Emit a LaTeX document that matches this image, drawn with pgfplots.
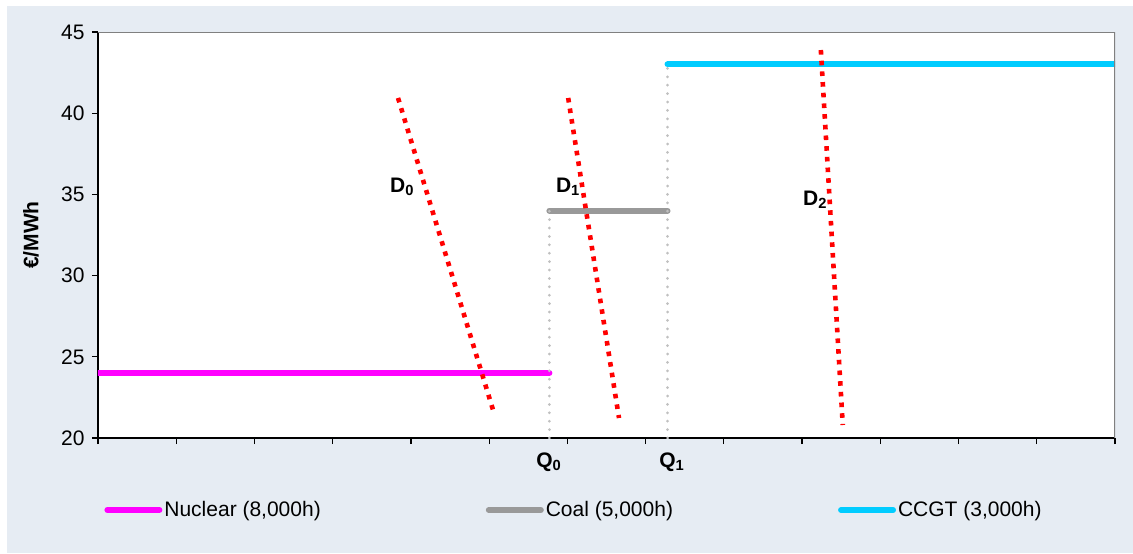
\documentclass[border=0pt]{standalone}
\usepackage{pgfplots}
\pgfplotsset{compat=1.18}
\usepackage{fontspec}
\setmainfont{Liberation Sans}
\definecolor{bgc}{HTML}{E6ECF3}
\definecolor{nuc}{HTML}{FF00FF}
\definecolor{coal}{HTML}{999999}
\definecolor{ccgt}{HTML}{00CCFF}
\definecolor{dotg}{HTML}{C0C0C0}
\definecolor{frameg}{HTML}{808080}
\begin{document}
\fontsize{10.5}{12.6}\selectfont
\begin{tikzpicture}
\fill[white] (-49pt,-57.5pt) rectangle (517.5pt,219pt);
\fill[bgc] (-45.5pt,-57.5pt) rectangle (517.5pt,216pt);
\begin{axis}[
  at={(0,0)}, anchor=south west,
  scale only axis, width=508.5pt, height=203pt,
  xmin=0, xmax=13, ymin=20, ymax=45,
  xtick={0,1,...,13}, xticklabels={},
  ytick={20,25,30,35,40,45},
  /pgf/number format/assume math mode=true,
  tick align=outside, major tick length=3pt,
  axis x line*=bottom, axis y line*=left,
  axis line style={black, line width=0.8pt},
  tick style={black, line width=0.6pt},
  axis background/.style={fill=white},
  ylabel={\textbf{€/MWh}}, ylabel shift=4pt,
  legend columns=3,
  legend cell align=left,
  legend style={draw=none, fill=none, at={(rel axis cs:0,0)}, anchor=west,
    xshift=3pt, yshift=-36pt, inner sep=0pt,
    nodes={inner sep=1pt},
    /tikz/every even column/.append style={column sep=81.5pt}},
  legend image code/.code={\draw[#1, line cap=round] (0pt,0pt) -- (26pt,0pt);},
]
\addplot[nuc, line width=3pt, line cap=round] coordinates {(-0.1,24) (5.77,24)};
\addlegendentry{Nuclear (8,000h)}
\addplot[coal, line width=3pt, line cap=round] coordinates {(5.77,34) (7.28,34)};
\addlegendentry{Coal (5,000h)}
\addplot[ccgt, line width=3pt, line cap=round] coordinates {(7.28,43) (13.1,43)};
\addlegendentry{CCGT (3,000h)}
% dotted guides
\addplot[dotg, line width=1.5pt, line cap=round, dash pattern=on 0pt off 4.2pt, forget plot] coordinates {(5.77,20) (5.77,34)};
\addplot[dotg, line width=1.5pt, line cap=round, dash pattern=on 0pt off 4.2pt, forget plot] coordinates {(7.28,20) (7.28,43)};
% demand curves
\addplot[red, line width=2.3pt, dash pattern=on 2.3pt off 3.05pt, forget plot] coordinates {(3.835,40.94) (5.05,21.72)};
\addplot[red, line width=2.3pt, dash pattern=on 2.3pt off 3.05pt, forget plot] coordinates {(6.01,40.94) (6.66,21.23)};
\addplot[red, line width=2.3pt, dash pattern=on 2.3pt off 3.05pt, forget plot] coordinates {(9.24,43.89) (9.52,20.8)};
% frame
\draw[frameg, line width=1.2pt] (rel axis cs:0,1) -- (rel axis cs:1,1) -- (rel axis cs:1,0);
% labels
\node at (axis cs:3.89,35.46) {\textbf{D\textsubscript{0}}};
\node at (axis cs:6.01,35.46) {\textbf{D\textsubscript{1}}};
\node at (axis cs:9.17,34.65) {\textbf{D\textsubscript{2}}};
\end{axis}
\node at (225.5pt,-12pt) {\textbf{Q\textsubscript{0}}};
\node at (287pt,-12pt) {\textbf{Q\textsubscript{1}}};
\end{tikzpicture}
\end{document}
